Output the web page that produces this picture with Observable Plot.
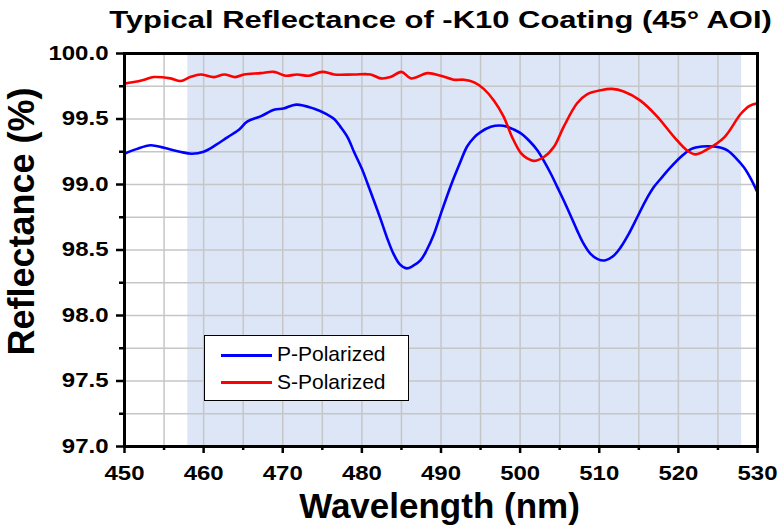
<!DOCTYPE html>
<html>
<head>
<meta charset="utf-8">
<script src="https://cdn.jsdelivr.net/npm/d3@7"></script>
<script src="https://cdn.jsdelivr.net/npm/@observablehq/plot@0.6"></script>
<style>
  body { margin: 0; background: #fff; }
  #wrap { position: relative; width: 780px; height: 528px; overflow: hidden; font-family: "Liberation Sans", Arial, sans-serif; }
  #title { position: absolute; left: 124px; top: 8px; width: 633px; text-align: center; font-weight: bold; font-size: 24px; line-height: 24px; white-space: nowrap; transform: scaleX(1.29); transform-origin: 50% 50%; color: #000; }
  #chart { position: absolute; left: 0; top: 40px; }
  #legend { position: absolute; left: 204px; top: 335px; width: 203px; height: 64px; border: 1.5px solid #000; background: #fff; }
  .lg-line { position: absolute; left: 16px; width: 51px; height: 3px; }
  .lg-text { position: absolute; left: 72px; font-size: 21px; line-height: 21px; white-space: nowrap; color: #000; }
</style>
</head>
<body>
<div id="wrap">
  <div id="title">Typical Reflectance of -K10 Coating (45° AOI)</div>
  <div id="chart"></div>
  <div id="legend"></div>
</div>
<script>
// ---- data ----
const seriesNames = ["P-Polarized", "S-Polarized"];
const seriesColors = ["#0000ff", "#ff0000"];

const pWavelength = [450, 451.5, 453.3, 455, 457, 458.5, 460, 461.5, 463, 464.5, 465.5, 467.2, 468.9, 470.1, 471.7, 473.9, 475.6, 476.5, 477.3, 478.2, 479.0, 480.0, 480.7, 481.5, 482.4, 483.2, 484.0, 484.8, 485.65, 486.5, 487.4, 488.2, 489.1, 490.0, 491.3, 492.3, 493.3, 494.2, 495.0, 496.3, 497.4, 498.4, 499.2, 500.1, 501.2, 502.2, 503.0, 503.9, 504.7, 505.5, 506.4, 507.2, 508.0, 508.9, 509.8, 510.7, 511.7, 512.7, 513.7, 514.8, 515.8, 516.9, 518.0, 519.0, 520.3, 521.6, 523.0, 524.5, 525.4, 526.2, 527.3, 528.3, 529.2, 530.0];
const pReflectance = [99.235, 99.27, 99.30, 99.28, 99.25, 99.235, 99.25, 99.30, 99.36, 99.42, 99.48, 99.52, 99.57, 99.58, 99.61, 99.58, 99.535, 99.50, 99.44, 99.36, 99.25, 99.12, 99.01, 98.88, 98.73, 98.59, 98.47, 98.39, 98.36, 98.38, 98.42, 98.50, 98.62, 98.78, 99.00, 99.15, 99.29, 99.36, 99.40, 99.44, 99.45, 99.44, 99.42, 99.39, 99.33, 99.26, 99.18, 99.08, 98.98, 98.88, 98.76, 98.65, 98.55, 98.47, 98.43, 98.42, 98.45, 98.52, 98.62, 98.75, 98.87, 98.98, 99.06, 99.13, 99.21, 99.27, 99.29, 99.29, 99.28, 99.26, 99.20, 99.13, 99.04, 98.94];

const sWavelength = [450, 451, 452.5, 453.7, 455.8, 457.1, 458.3, 459.6, 461.3, 462.6, 464.0, 465.1, 467.2, 468.9, 470.4, 471.8, 473.3, 475.0, 476.5, 479.0, 481.1, 482.4, 483.6, 485.0, 486.2, 488.3, 490.0, 491.6, 492.9, 494.2, 495.4, 496.7, 497.9, 499.0, 500.1, 500.9, 501.7, 503.0, 504.3, 505.5, 507.2, 508.5, 510.2, 511.6, 513.1, 515.2, 517.3, 519.5, 521.1, 522.2, 523.7, 525.8, 527.9, 529.0, 530.0];
const sReflectance = [99.77, 99.78, 99.80, 99.82, 99.81, 99.79, 99.82, 99.84, 99.82, 99.84, 99.82, 99.84, 99.85, 99.86, 99.83, 99.84, 99.83, 99.86, 99.84, 99.84, 99.84, 99.81, 99.82, 99.86, 99.81, 99.85, 99.83, 99.80, 99.80, 99.78, 99.73, 99.64, 99.52, 99.36, 99.24, 99.20, 99.18, 99.21, 99.29, 99.44, 99.62, 99.69, 99.72, 99.73, 99.71, 99.64, 99.52, 99.36, 99.26, 99.23, 99.27, 99.36, 99.54, 99.60, 99.62];

const shadedBand = [{from: 458, to: 528}];
const xMajorTicks = [450, 460, 470, 480, 490, 500, 510, 520, 530];
const xMinorTicks = [455, 465, 475, 485, 495, 505, 515, 525];
const yMajorTicks = [97.0, 97.5, 98.0, 98.5, 99.0, 99.5, 100.0];
const yMinorTicks = [97.25, 97.75, 98.25, 98.75, 99.25, 99.75];
const xGrid = [...xMajorTicks, ...xMinorTicks];
const yGrid = [...yMajorTicks, ...yMinorTicks];
const xLabel = "Wavelength (nm)";
const yLabel = "Reflectance (%)";

const pData = pWavelength.map((w, i) => ({wl: w, r: pReflectance[i]}));
const sData = sWavelength.map((w, i) => ({wl: w, r: sReflectance[i]}));

const chart = Plot.plot({
  width: 780,
  height: 488,
  marginTop: 13,
  marginBottom: 82,
  marginLeft: 124,
  marginRight: 23,
  style: {fontFamily: "'Liberation Sans', Arial, sans-serif", color: "#000", background: "#fff", overflow: "visible"},
  x: {domain: [450, 530], label: null},
  y: {domain: [97, 100], label: null},
  marks: [
    Plot.rect(shadedBand, {x1: "from", x2: "to", fill: "#dce6f6"}),
    Plot.gridX(xGrid, {stroke: "#c6c6c6", strokeOpacity: 1, strokeWidth: 1.5}),
    Plot.gridY(yGrid, {stroke: "#c6c6c6", strokeOpacity: 1, strokeWidth: 1.5}),
    Plot.line(pData, {x: "wl", y: "r", stroke: seriesColors[0], strokeWidth: 2.6, curve: "catmull-rom", clip: true}),
    Plot.line(sData, {x: "wl", y: "r", stroke: seriesColors[1], strokeWidth: 2.6, curve: "catmull-rom", clip: true}),
    Plot.frame({stroke: "#000", strokeWidth: 3}),
    Plot.axisX({ticks: xMajorTicks, tickSize: 7, tickPadding: 12, tickFormat: d => String(d), fontSize: 20, fontWeight: "bold", strokeWidth: 2.5, label: null}),
    Plot.axisX({ticks: xMinorTicks, tickSize: 4, tickFormat: () => "", strokeWidth: 2.5, label: null}),
    Plot.axisY({ticks: yMajorTicks, tickSize: 8, tickPadding: 8, tickFormat: d => d.toFixed(1), fontSize: 20, fontWeight: "bold", strokeWidth: 2.5, label: null}),
    Plot.axisY({ticks: yMinorTicks, tickSize: 5, tickFormat: () => "", strokeWidth: 2.5, label: null}),
    Plot.text([xLabel], {frameAnchor: "bottom", lineAnchor: "top", textAnchor: "middle", dy: 47, dx: -1.5, fontSize: 35, fontWeight: "bold", fill: "#000"}),
    Plot.text([yLabel], {frameAnchor: "left", rotate: -90, textAnchor: "middle", lineAnchor: "middle", dx: -102.5, dy: -28.5, fontSize: 36, fontWeight: "bold", fill: "#000"})
  ]
});
document.getElementById("chart").appendChild(chart);

// widen tick labels like the reference's stretched glyphs
chart.querySelectorAll('g[aria-label$="tick label"] text').forEach(t => {
  const w = t.getComputedTextLength();
  if (w > 0) {
    t.setAttribute("textLength", (w * 1.2).toFixed(1));
    t.setAttribute("lengthAdjust", "spacingAndGlyphs");
  }
});

// legend
const legend = document.getElementById("legend");
const rowLineTop = [17.5, 45.2];
const rowTextTop = [7.4, 35.0];
seriesNames.forEach((name, i) => {
  const ln = document.createElement("div");
  ln.className = "lg-line";
  ln.style.top = rowLineTop[i] + "px";
  ln.style.background = seriesColors[i];
  legend.appendChild(ln);
  const tx = document.createElement("div");
  tx.className = "lg-text";
  tx.style.top = rowTextTop[i] + "px";
  tx.textContent = name;
  legend.appendChild(tx);
});
</script>
</body>
</html>
